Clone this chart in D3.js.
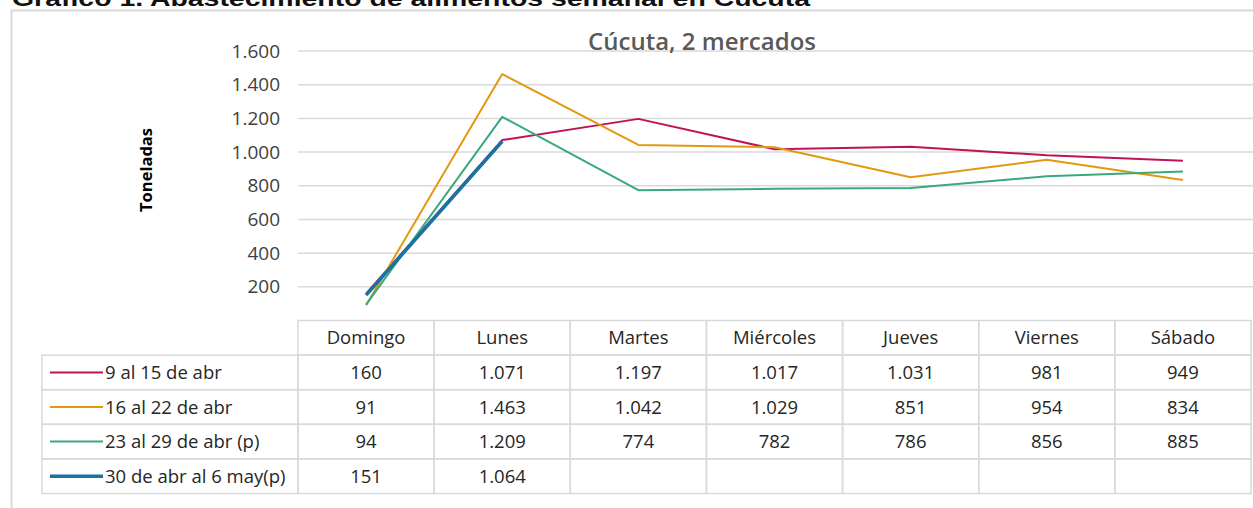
<!DOCTYPE html>
<html>
<head>
<meta charset="utf-8">
<script src="https://cdn.jsdelivr.net/npm/d3@7"></script>
<style>
  body { margin: 0; background: #fff; }
  svg text { font-family: "Open Sans", sans-serif; }
</style>
</head>
<body>
<svg id="chart" width="1253" height="508"></svg>
<script>
// --- data ---
const days = ['Domingo', 'Lunes', 'Martes', 'Miércoles', 'Jueves', 'Viernes', 'Sábado'];
const seriesNames = ['9 al 15 de abr', '16 al 22 de abr', '23 al 29 de abr (p)', '30 de abr al 6 may(p)'];
const week1 = [160, 1071, 1197, 1017, 1031, 981, 949];
const week2 = [91, 1463, 1042, 1029, 851, 954, 834];
const week3 = [94, 1209, 774, 782, 786, 856, 885];
const week4 = [151, 1064];
const yTicks = [200, 400, 600, 800, 1000, 1200, 1400, 1600];
const colors = ['#c0125a', '#e3980f', '#3aa97a', '#1a72a3'];
const widths = [2, 2, 2, 3.5];

const series = [week1, week2, week3, week4];

const dims = {
  left: 298, right: 1251,
  top: 51, zero: 320.5,
  rowH: 34.6, legendLeft: 42
};

const fmt = v => d3.format(',')(v).replace(/,/g, '.');

const svg = d3.select('#chart');

// figure title (cut off at top of image, as in the source)
svg.append('text')
  .attr('x', 12).attr('y', 6)
  .attr('textLength', 798)
  .attr('lengthAdjust', 'spacingAndGlyphs')
  .style('font-family', '"Liberation Sans", Arial, sans-serif')
  .style('font-weight', 'bold').style('font-size', '22px')
  .attr('fill', '#111')
  .text('Gráfico 1. Abastecimiento de alimentos semanal en Cúcuta');

// outer chart frame
svg.append('path')
  .attr('d', `M11.5,520 V10.5 H1253`)
  .attr('fill', 'none').attr('stroke', '#d9d9d9').attr('stroke-width', 2);

const x = d3.scaleBand().domain(days).range([dims.left, dims.right]);
const y = d3.scaleLinear().domain([0, 1600]).range([dims.zero, dims.top]);

// gridlines
svg.append('g').selectAll('line').data(yTicks).join('line')
  .attr('x1', dims.left).attr('x2', dims.right + 2)
  .attr('y1', d => y(d)).attr('y2', d => y(d))
  .attr('stroke', '#d9d9d9').attr('stroke-width', 1.5);

// y axis labels
const yAxis = svg.append('g')
  .attr('transform', `translate(${dims.left - 18},0)`)
  .call(d3.axisLeft(y).tickValues(yTicks).tickSize(0).tickPadding(0).tickFormat(fmt));
yAxis.select('.domain').remove();
yAxis.selectAll('text')
  .style('font-family', '"Open Sans", sans-serif')
  .style('font-size', '19px').attr('fill', '#404040');

svg.append('text')
  .attr('transform', 'translate(152,170) rotate(-90)')
  .attr('text-anchor', 'middle')
  .style('font-weight', 'bold').style('font-size', '16.5px')
  .attr('fill', '#000')
  .text('Toneladas');

svg.append('text')
  .attr('x', 702).attr('y', 50)
  .attr('text-anchor', 'middle')
  .style('font-weight', 600).style('font-size', '24px')
  .attr('fill', '#595959')
  .text('Cúcuta, 2 mercados');

// lines
const line = d3.line()
  .x((d, i) => x(days[i]) + x.bandwidth() / 2)
  .y(d => y(d));

svg.append('g').selectAll('path').data(series).join('path')
  .attr('d', d => line(d))
  .attr('fill', 'none')
  .attr('stroke', (d, i) => colors[i])
  .attr('stroke-width', (d, i) => widths[i])
  .attr('stroke-linejoin', 'round');

// data table
const table = svg.append('g');
const rowY = i => dims.zero + i * dims.rowH;
const gridCol = '#d9d9d9';
const cellFont = '18.5px';

// header cells (day names)
days.forEach((d, j) => {
  table.append('rect')
    .attr('x', x(d)).attr('y', rowY(0))
    .attr('width', x.bandwidth()).attr('height', dims.rowH)
    .attr('fill', 'none').attr('stroke', gridCol).attr('stroke-width', 1.5);
  table.append('text')
    .attr('x', x(d) + x.bandwidth() / 2).attr('y', rowY(0) + dims.rowH / 2 + 6.5)
    .attr('text-anchor', 'middle')
    .style('font-size', cellFont).attr('fill', '#262626')
    .text(d);
});

series.forEach((vals, i) => {
  const top = rowY(i + 1);
  table.append('rect')
    .attr('x', dims.legendLeft).attr('y', top)
    .attr('width', dims.left - dims.legendLeft).attr('height', dims.rowH)
    .attr('fill', 'none').attr('stroke', gridCol).attr('stroke-width', 1.5);
  table.append('line')
    .attr('x1', 50).attr('x2', 103)
    .attr('y1', top + dims.rowH / 2).attr('y2', top + dims.rowH / 2)
    .attr('stroke', colors[i]).attr('stroke-width', widths[i]);
  table.append('text')
    .attr('x', 105).attr('y', top + dims.rowH / 2 + 6.5)
    .style('font-size', cellFont).attr('fill', '#262626')
    .text(seriesNames[i]);
  days.forEach((d, j) => {
    table.append('rect')
      .attr('x', x(d)).attr('y', top)
      .attr('width', x.bandwidth()).attr('height', dims.rowH)
      .attr('fill', 'none').attr('stroke', gridCol).attr('stroke-width', 1.5);
    if (vals[j] !== undefined) {
      table.append('text')
        .attr('x', x(d) + x.bandwidth() / 2).attr('y', top + dims.rowH / 2 + 6.5)
        .attr('text-anchor', 'middle')
        .style('font-size', cellFont).attr('fill', '#262626')
        .text(fmt(vals[j]));
    }
  });
});
</script>
</body>
</html>
